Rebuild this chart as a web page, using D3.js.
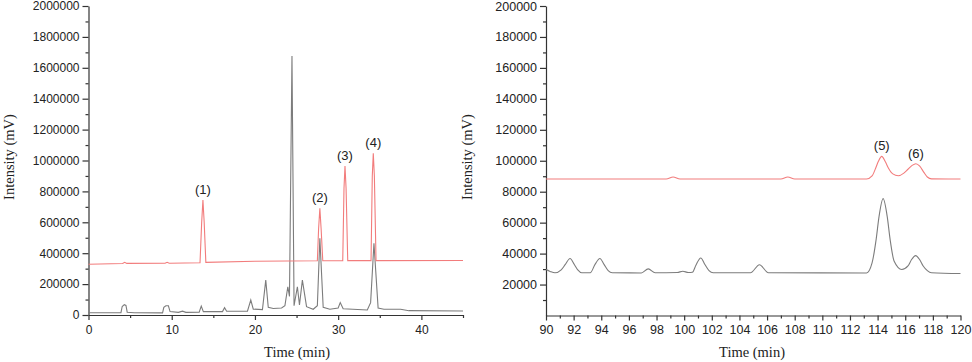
<!DOCTYPE html>
<html>
<head>
<meta charset="utf-8">
<script src="https://cdn.jsdelivr.net/npm/d3@7"></script>
<style>
	body { margin: 0; background: #fff; }
	.axis path, .axis line { stroke: #333; stroke-width: 1.2; }
	.axis text { font-family: "Liberation Sans", Arial, sans-serif; fill: #222; }
	.axis-title { font-family: "Liberation Serif", "Times New Roman", serif; font-size: 14.5px; fill: #222; }
	.peak-label { font-family: "Liberation Sans", Arial, sans-serif; font-size: 13px; fill: #222; }
</style>
</head>
<body>
<div id="chart"></div>
<script>

// chromatogram traces: [time (min), intensity]
let leftStandard = [
	[0, 328000], [4.1, 333000], [4.35, 341000], [4.6, 334000], [9.2, 335000], [9.45, 341000],
	[9.7, 335000], [13.4, 338000], [13.6, 600000], [13.75, 744000], [13.9, 600000], [14.1, 341000],
	[20, 348000], [27.5, 351000], [27.65, 560000], [27.8, 690000], [27.95, 560000], [28.15, 351000],
	[30.55, 352000], [30.7, 820000], [30.82, 964000], [30.95, 820000], [31.15, 352000],
	[33.95, 352000], [34.1, 900000], [34.22, 1046000], [34.35, 900000], [34.55, 352000], [45, 353000]
];

let leftSample = [
	[0, 15000], [3.9, 15000], [4.05, 55000], [4.3, 67000], [4.5, 62000], [4.65, 18000], [5.5, 15000],
	[8.9, 14000], [9.05, 50000], [9.3, 60000], [9.6, 60000], [9.8, 22000], [10.8, 17000], [11.3, 25000],
	[11.7, 17000], [13.3, 18000], [13.55, 58000], [13.8, 22000], [16.1, 22000], [16.35, 47000],
	[16.6, 24000], [19.1, 25000], [19.5, 97000], [19.8, 38000], [20.9, 35000], [21.3, 226000],
	[21.6, 50000], [22.2, 42000], [23.2, 45000], [23.6, 60000], [23.95, 183000], [24.15, 120000],
	[24.45, 1676000], [24.7, 60000], [25.1, 183000], [25.35, 65000], [25.7, 226000], [26.2, 54000],
	[27.0, 37000], [27.5, 60000], [27.8, 496000], [28.2, 50000], [29.0, 37000], [30.0, 45000],
	[30.25, 80000], [30.6, 40000], [33.5, 32000], [33.9, 80000], [34.3, 464000], [34.8, 45000],
	[35.5, 37000], [37.5, 37000], [38.5, 28000], [45, 26000]
];

let rightStandard = [
	[90, 88200], [98.7, 88200], [99.2, 89500], [99.7, 88200], [107, 88200], [107.5, 89500],
	[108, 88200], [113.2, 88200], [113.6, 90200], [113.85, 95000], [114.05, 99500], [114.3, 102800],
	[114.55, 99500], [114.8, 95000], [115.1, 91500], [115.5, 90300], [115.9, 92000], [116.2, 94500],
	[116.5, 97000], [116.77, 98100], [117.05, 96500], [117.35, 92500], [117.6, 89500], [117.9, 88300],
	[120, 88200]
];

let rightSample = [
	[90, 29700], [90.3, 28500], [90.65, 27600], [91.1, 29500], [91.4, 33000], [91.74, 36800],
	[92.05, 33000], [92.3, 29500], [92.6, 27600], [93.2, 27600], [93.55, 33000], [93.9, 36800],
	[94.2, 33000], [94.5, 29000], [94.8, 27600], [96.9, 27500], [97.4, 30100], [97.9, 27600],
	[99.5, 27800], [99.9, 28600], [100.3, 27800], [100.6, 28000], [100.85, 32500], [101.2, 37200],
	[101.5, 33000], [101.8, 29000], [102.1, 27600], [104.8, 27600], [105.45, 32800], [106.1, 27600],
	[113.2, 27500], [113.6, 34000], [113.9, 49500], [114.1, 63700], [114.4, 75500], [114.7, 63700],
	[114.9, 49500], [115.2, 35000], [115.75, 29700], [116.2, 32000], [116.45, 36000], [116.75, 38700],
	[117.05, 36000], [117.3, 32000], [117.6, 29000], [117.9, 27600], [120, 27100]
];

// peak labels: [text, time, intensity of the peak top]
let leftLabels = [["(1)", 13.75, 744000], ["(2)", 27.8, 690000], ["(3)", 30.82, 964000], ["(4)", 34.22, 1046000]];
let rightLabels = [["(5)", 114.3, 102800], ["(6)", 116.77, 98100]];

// axis ranges and ticks
let leftXDomain = [0, 45];
let leftYDomain = [0, 2000000];
let rightXDomain = [90, 120];
let rightYDomain = [0, 200000];
let leftXTicks = [0, 10, 20, 30, 40];
let leftXMinor = [5, 15, 25, 35, 45];
let leftYTicks = d3.range(0, 2000001, 200000);
let leftYMinor = d3.range(100000, 2000000, 200000);
let rightXTicks = d3.range(90, 121, 2);
let rightXMinor = d3.range(91, 120, 2);
let rightYTicks = d3.range(20000, 200001, 20000);
let rightYMinor = d3.range(10000, 200000, 20000);

let svg = d3.select("#chart").append("svg")
	.attr("width", 972)
	.attr("height", 362);

function drawPanel(cfg) {
	let x = d3.scaleLinear().domain(cfg.xDomain).range([cfg.left, cfg.right]);
	let y = d3.scaleLinear().domain(cfg.yDomain).range([cfg.bottom, cfg.top]);

	let g = svg.append("g");

	// minor ticks first, so the major axis sits on top
	g.append("g")
		.attr("class", "axis")
		.attr("transform", "translate(0," + cfg.bottom + ")")
		.call(d3.axisBottom(x).tickValues(cfg.xMinor).tickSize(3).tickSizeOuter(0).tickFormat(""))
		.select(".domain").remove();

	g.append("g")
		.attr("class", "axis")
		.attr("transform", "translate(" + cfg.left + ",0)")
		.call(d3.axisLeft(y).tickValues(cfg.yMinor).tickSize(3).tickSizeOuter(0).tickFormat(""))
		.select(".domain").remove();

	g.append("g")
		.attr("class", "axis")
		.attr("transform", "translate(0," + cfg.bottom + ")")
		.call(d3.axisBottom(x).tickValues(cfg.xTicks).tickSize(5).tickSizeOuter(0).tickPadding(5).tickFormat(d3.format("d")))
		.selectAll("text").attr("font-size", cfg.fontSize + "px");

	g.append("g")
		.attr("class", "axis")
		.attr("transform", "translate(" + cfg.left + ",0)")
		.call(d3.axisLeft(y).tickValues(cfg.yTicks).tickSize(6).tickSizeOuter(0).tickPadding(3).tickFormat(d3.format("d")))
		.selectAll("text").attr("font-size", cfg.fontSize + "px");

	let line = d3.line()
		.x(d => x(d[0]))
		.y(d => y(d[1]))
		.curve(cfg.curve);

	g.append("path")
		.datum(cfg.sample)
		.attr("fill", "none")
		.attr("stroke", "#7c7c7c")
		.attr("stroke-width", 1.1)
		.attr("d", line);

	g.append("path")
		.datum(cfg.standard)
		.attr("fill", "none")
		.attr("stroke", "#f27c7c")
		.attr("stroke-width", 1.1)
		.attr("d", line);

	g.selectAll(".peak-label")
		.data(cfg.labels)
		.enter().append("text")
		.attr("class", "peak-label")
		.attr("text-anchor", "middle")
		.attr("x", d => x(d[1]))
		.attr("y", d => y(d[2]) - 6)
		.text(d => d[0]);

	g.append("text")
		.attr("class", "axis-title")
		.attr("text-anchor", "middle")
		.attr("x", cfg.xTitleX)
		.attr("y", 357)
		.text("Time (min)");

	g.append("text")
		.attr("class", "axis-title")
		.attr("text-anchor", "middle")
		.attr("transform", "translate(" + cfg.yTitleX + ",157) rotate(-90)")
		.text("Intensity (mV)");
}

drawPanel({
	xDomain: leftXDomain, yDomain: leftYDomain,
	left: 88.5, right: 463, top: 6, bottom: 315,
	xTicks: leftXTicks, xMinor: leftXMinor, yTicks: leftYTicks, yMinor: leftYMinor,
	sample: leftSample, standard: leftStandard, labels: leftLabels,
	curve: d3.curveLinear, fontSize: 12,
	xTitleX: 297, yTitleX: 14
});

drawPanel({
	xDomain: rightXDomain, yDomain: rightYDomain,
	left: 546, right: 960.5, top: 6, bottom: 315.5,
	xTicks: rightXTicks, xMinor: rightXMinor, yTicks: rightYTicks, yMinor: rightYMinor,
	sample: rightSample, standard: rightStandard, labels: rightLabels,
	curve: d3.curveMonotoneX, fontSize: 12.5,
	xTitleX: 752, yTitleX: 472
});

</script>
</body>
</html>
